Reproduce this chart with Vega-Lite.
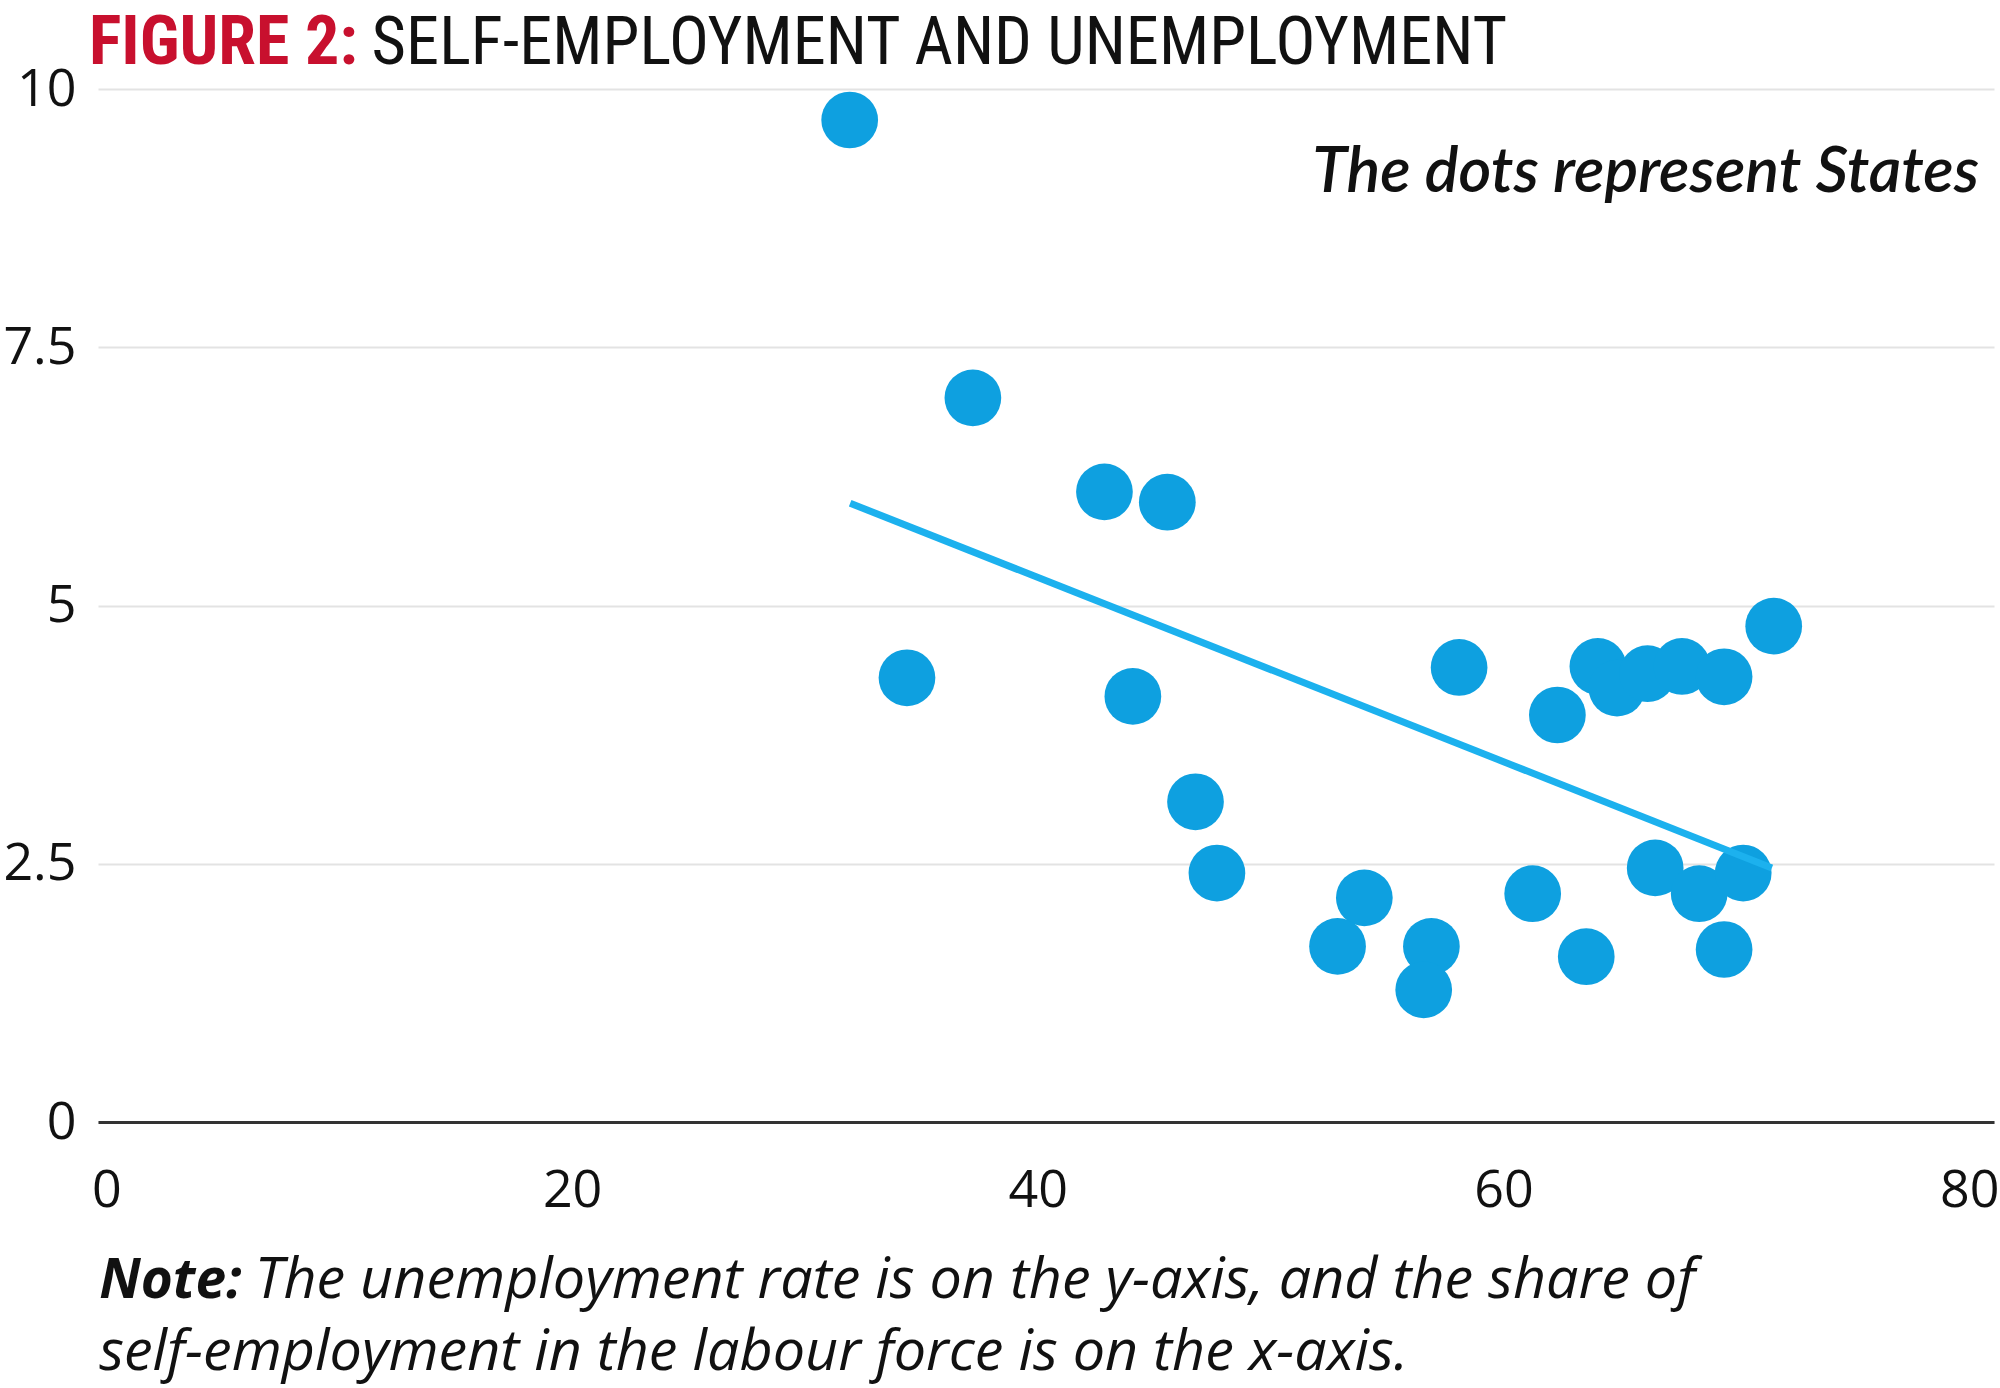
{
  "$schema": "https://vega.github.io/schema/vega-lite/v6.json",
  "autosize": {"type": "none"},
  "width": 1896,
  "height": 1033,
  "padding": {"left": 98, "top": 89, "right": 6, "bottom": 266},
  "background": "white",
  "config": {
    "view": {"stroke": null},
    "font": "Open Sans"
  },
  "datasets": {
    "states": [
      {"share": 31.92, "unemployment": 9.70},
      {"share": 37.21, "unemployment": 7.01},
      {"share": 42.86, "unemployment": 6.10},
      {"share": 45.56, "unemployment": 6.00},
      {"share": 34.38, "unemployment": 4.30},
      {"share": 44.08, "unemployment": 4.12},
      {"share": 46.77, "unemployment": 3.10},
      {"share": 47.69, "unemployment": 2.41},
      {"share": 58.09, "unemployment": 4.40},
      {"share": 62.31, "unemployment": 3.94},
      {"share": 64.05, "unemployment": 4.41},
      {"share": 64.87, "unemployment": 4.20},
      {"share": 66.18, "unemployment": 4.34},
      {"share": 67.66, "unemployment": 4.41},
      {"share": 69.47, "unemployment": 4.31},
      {"share": 71.60, "unemployment": 4.80},
      {"share": 54.02, "unemployment": 2.17},
      {"share": 52.87, "unemployment": 1.70},
      {"share": 56.90, "unemployment": 1.70},
      {"share": 56.57, "unemployment": 1.28},
      {"share": 61.25, "unemployment": 2.21},
      {"share": 63.55, "unemployment": 1.60},
      {"share": 66.51, "unemployment": 2.46},
      {"share": 68.40, "unemployment": 2.21},
      {"share": 70.29, "unemployment": 2.41},
      {"share": 69.47, "unemployment": 1.67}
    ],
    "trend": [
      {"share": 31.94, "unemployment": 5.99},
      {"share": 71.52, "unemployment": 2.46}
    ]
  },
  "layer": [
    {
      "data": {"name": "states"},
      "mark": {"type": "circle", "size": 3217, "color": "#0ea0e0", "opacity": 1},
      "encoding": {
        "x": {
          "field": "share", "type": "quantitative",
          "scale": {"domain": [-0.36, 81.06], "nice": false, "zero": false},
          "axis": {
            "title": null, "values": [0, 20, 40, 60, 80], "format": "d",
            "grid": false, "ticks": false, "domain": true,
            "domainColor": "#333333", "domainWidth": 3,
            "labelFont": "Open Sans", "labelFontSize": 52, "labelFontWeight": 400, "labelColor": "#111111",
            "labelPadding": 43, "labelBaseline": "top", "labelFlush": false
          }
        },
        "y": {
          "field": "unemployment", "type": "quantitative",
          "scale": {"domain": [0, 10], "nice": false},
          "axis": {
            "title": null, "values": [0, 2.5, 5, 7.5, 10], "format": "~g",
            "grid": true, "gridColor": "#e3e3e3", "gridWidth": 2,
            "ticks": false, "domain": false,
            "labelFont": "Open Sans", "labelFontSize": 52, "labelFontWeight": 400, "labelColor": "#111111",
            "labelPadding": 22, "labelFlush": false
          }
        }
      }
    },
    {
      "data": {"name": "trend"},
      "mark": {"type": "line", "color": "#1cb1ee", "strokeWidth": 7, "strokeCap": "butt"},
      "encoding": {
        "x": {"field": "share", "type": "quantitative"},
        "y": {"field": "unemployment", "type": "quantitative"}
      }
    },
    {
      "data": {"values": [{}]},
      "mark": {"type": "text", "align": "left", "baseline": "alphabetic", "font": "Liberation Sans Narrow, Roboto Condensed, DejaVu Sans Condensed, Liberation Sans", "fontWeight": "bold", "fontSize": 68, "color": "#c8102e"},
      "encoding": {
        "x": {"datum": -0.747, "type": "quantitative", "title": null},
        "y": {"datum": 10.242, "type": "quantitative", "title": null},
        "text": {"value": "FIGURE 2:"}
      }
    },
    {
      "data": {"values": [{}]},
      "mark": {"type": "text", "align": "left", "baseline": "alphabetic", "font": "Liberation Sans Narrow, Roboto Condensed, DejaVu Sans Condensed, Liberation Sans", "fontWeight": "normal", "fontSize": 66.5, "color": "#111111"},
      "encoding": {
        "x": {"datum": 11.39, "type": "quantitative", "title": null},
        "y": {"datum": 10.242, "type": "quantitative", "title": null},
        "text": {"value": "SELF-EMPLOYMENT AND UNEMPLOYMENT"}
      }
    },
    {
      "data": {"values": [{}]},
      "mark": {"type": "text", "align": "right", "baseline": "alphabetic", "font": "Lato", "fontStyle": "italic", "fontWeight": 600, "fontSize": 63, "color": "#111111"},
      "encoding": {
        "x": {"datum": 80.42, "type": "quantitative", "title": null},
        "y": {"datum": 9.006, "type": "quantitative", "title": null},
        "text": {"value": "The dots represent States"}
      }
    },
    {
      "data": {"values": [{}]},
      "mark": {"type": "text", "align": "left", "baseline": "alphabetic", "font": "Open Sans", "fontStyle": "italic", "fontWeight": "bold", "fontSize": 55, "color": "#111111"},
      "encoding": {
        "x": {"datum": -0.31, "type": "quantitative", "title": null},
        "y": {"datum": -1.704, "type": "quantitative", "title": null},
        "text": {"value": "Note:"}
      }
    },
    {
      "data": {"values": [{}]},
      "mark": {"type": "text", "align": "left", "baseline": "alphabetic", "font": "Open Sans", "fontStyle": "italic", "fontWeight": "normal", "fontSize": 57.5, "color": "#111111"},
      "encoding": {
        "x": {"datum": 6.37, "type": "quantitative", "title": null},
        "y": {"datum": -1.704, "type": "quantitative", "title": null},
        "text": {"value": "The unemployment rate is on the y-axis, and the share of"}
      }
    },
    {
      "data": {"values": [{}]},
      "mark": {"type": "text", "align": "left", "baseline": "alphabetic", "font": "Open Sans", "fontStyle": "italic", "fontWeight": "normal", "fontSize": 57.5, "color": "#111111"},
      "encoding": {
        "x": {"datum": -0.31, "type": "quantitative", "title": null},
        "y": {"datum": -2.40, "type": "quantitative", "title": null},
        "text": {"value": "self-employment in the labour force is on the x-axis."}
      }
    }
  ]
}
